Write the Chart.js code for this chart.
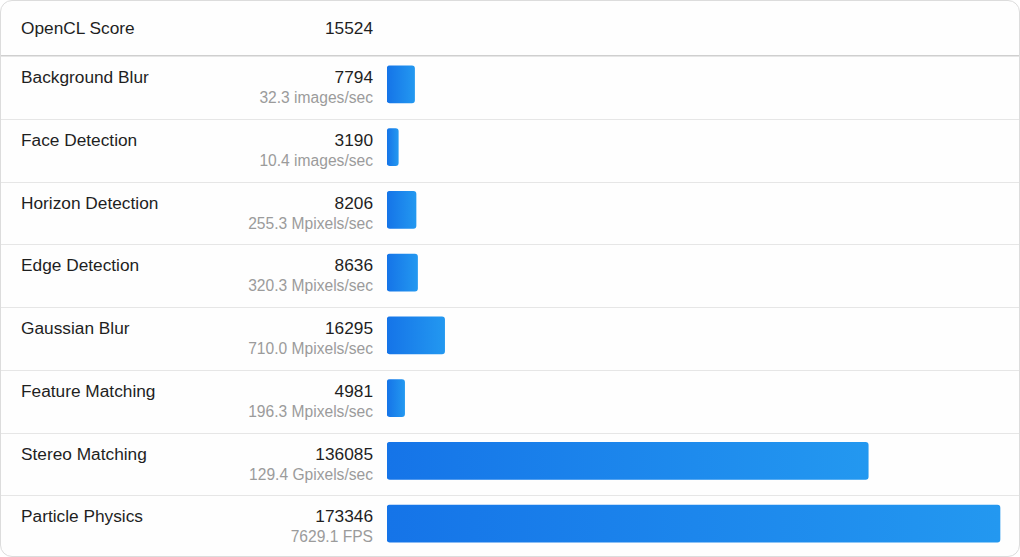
<!DOCTYPE html>
<html>
<head>
<meta charset="utf-8">
<script src="https://cdn.jsdelivr.net/npm/chart.js@4"></script>
<style>
  body { margin: 0; background: #fff; font-family: "Liberation Sans", Arial, sans-serif; }
  .card { position: absolute; left: 0; top: 0; width: 1018px; height: 555px; border: 1px solid #dcdcdc; border-radius: 12px; background: #fefefe; overflow: hidden; }
  .head { position: absolute; left: 0; top: 0; width: 100%; height: 54px; border-bottom: 1px solid #cfcfcf; }
  .row { position: absolute; left: 0; width: 100%; border-top: 1px solid #e6e6e6; box-sizing: border-box; }
  .row:first-of-type { border-top: none; }
  .lbl { position: absolute; left: 20px; font-size: 17.3px; color: #1f1f1f; line-height: 20px; }
  .score { position: absolute; right: 646px; font-size: 17.3px; color: #1f1f1f; line-height: 20px; text-align: right; }
  .sub { position: absolute; right: 646px; font-size: 15.6px; color: #9b9b9b; line-height: 18px; text-align: right; }
  canvas { position: absolute; left: 387px; top: 53px; }
</style>
</head>
<body>
<div class="card" id="card">
  <div class="head">
    <div class="lbl" style="top:17px">OpenCL Score</div>
    <div class="score" style="top:17px" id="total"></div>
  </div>
</div>
<canvas id="bars" width="625" height="502"></canvas>
<script>
const totalScore = 15524;
const tests = ['Background Blur', 'Face Detection', 'Horizon Detection', 'Edge Detection',
  'Gaussian Blur', 'Feature Matching', 'Stereo Matching', 'Particle Physics'];
const scores = [7794, 3190, 8206, 8636, 16295, 4981, 136085, 173346];
const rates = ['32.3 images/sec', '10.4 images/sec', '255.3 Mpixels/sec', '320.3 Mpixels/sec',
  '710.0 Mpixels/sec', '196.3 Mpixels/sec', '129.4 Gpixels/sec', '7629.1 FPS'];

document.getElementById('total').textContent = totalScore;

// text rows
const card = document.getElementById('card');
const rowH = 62.75;
tests.forEach((name, i) => {
  const row = document.createElement('div');
  row.className = 'row';
  row.style.top = (55 + i * rowH) + 'px';
  row.style.height = rowH + 'px';
  row.innerHTML =
    `<div class="lbl" style="top:10px">${name}</div>` +
    `<div class="score" style="top:10px">${scores[i]}</div>` +
    `<div class="sub" style="top:32px">${rates[i]}</div>`;
  card.appendChild(row);
});

// gradient per bar, from its base to its end
function barGradient(ctx) {
  const chart = ctx.chart;
  const xs = chart.scales.x;
  if (!xs || ctx.raw === undefined) return '#1a7ce9';
  const x0 = xs.getPixelForValue(0);
  const x1 = xs.getPixelForValue(ctx.raw);
  if (!isFinite(x0) || !isFinite(x1)) return '#1a7ce9';
  const g = chart.ctx.createLinearGradient(x0, 0, x1, 0);
  g.addColorStop(0, '#1574e8');
  g.addColorStop(1, '#2398f0');
  return g;
}

new Chart(document.getElementById('bars'), {
  type: 'bar',
  data: {
    labels: tests,
    datasets: [{
      data: scores,
      backgroundColor: barGradient,
      borderRadius: 3,
      borderSkipped: false,
      barThickness: 37,
    }],
  },
  options: {
    indexAxis: 'y',
    responsive: false,
    animation: false,
    layout: { padding: 0 },
    scales: {
      x: { display: false, min: 0, max: 176740 },
      y: { display: false },
    },
    plugins: {
      legend: { display: false },
      tooltip: { enabled: false },
    },
  },
});
</script>
</body>
</html>
